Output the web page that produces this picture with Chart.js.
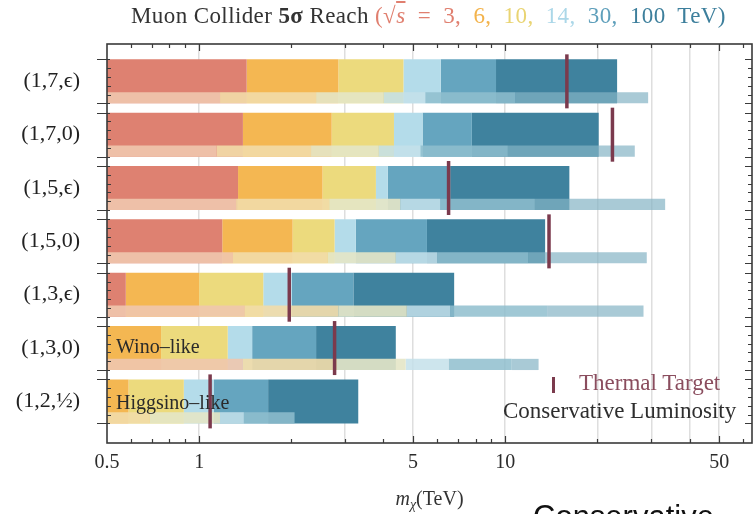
<!DOCTYPE html>
<html>
<head>
<meta charset="utf-8">
<script src="https://cdn.jsdelivr.net/npm/chart.js@4.4.0/dist/chart.umd.min.js"></script>
<style>
    html, body { margin: 0; padding: 0; background: #fff; overflow: hidden; }
    #wrap { position: relative; width: 754px; height: 514px; overflow: hidden; }
    #wrap canvas { position: absolute; left: 0; top: 0; }
    .txt { position: absolute; white-space: nowrap; line-height: 1;
           font-family: "Liberation Serif", "DejaVu Serif", serif; }
    #title { left: 131px; top: 4px; font-size: 23px; color: #333; letter-spacing: 0.4px; }
    #title .sq { word-spacing: 6px; }
    #xlabel { left: 107px; width: 645px; top: 488px; font-size: 20px; color: #333; text-align: center; }
    #xlabel sub { font-size: 14px; vertical-align: -4px; line-height: 0; }
    .note { font-size: 20px; color: #2a2a2a; left: 116px; }
    #thermalMark { position: absolute; left: 552px; top: 377px; width: 3px; height: 16px; background: #7b3a4d; }
    #thermalText { left: 579px; top: 371px; font-size: 23px; color: #8a4d5e; }
    #consText { left: 503px; top: 399px; font-size: 23px; color: #2e2e2e; }
    #slideText { position: absolute; left: 533px; top: 501px; font: 31px "Liberation Sans", Arial, sans-serif;
                 line-height: 1; color: #111; white-space: nowrap; }
</style>
</head>
<body>
<div id="wrap">
    <canvas id="reach" width="754" height="514"></canvas>
    <div class="txt" id="title"></div>
    <div class="txt" id="xlabel"><i>m</i><sub><i>χ</i></sub>(TeV)</div>
    <div class="txt note" style="top:336px;">Wino–like</div>
    <div class="txt note" style="top:392px;">Higgsino–like</div>
    <div id="thermalMark"></div>
    <div class="txt" id="thermalText">Thermal Target</div>
    <div class="txt" id="consText">Conservative Luminosity</div>
    <div id="slideText">Conservative</div>
</div>
<script>
const categories = ['(1,7,ϵ)', '(1,7,0)', '(1,5,ϵ)', '(1,5,0)', '(1,3,ϵ)', '(1,3,0)', '(1,2,½)'];
const energies = ['3', '6', '10', '14', '30', '100'];

/* 5 sigma reach in m_chi (TeV), nominal luminosity, one list per collider energy */
const reach3   = [1.43, 1.39, 1.34, 1.19, 0.576, 0.45, 0.45];
const reach6   = [2.85, 2.71, 2.53, 2.02, 1.00, 0.751, 0.588];
const reach10  = [4.65, 4.33, 3.78, 2.77, 1.62, 1.24, 0.891];
const reach14  = [6.16, 5.37, 4.13, 3.25, 2.01, 1.49, 1.117];
const reach30  = [9.33, 7.78, 6.61, 5.55, 3.19, 2.41, 1.68];
const reach100 = [23.2, 20.2, 16.2, 13.5, 6.81, 4.39, 3.31];

/* same, conservative luminosity */
const cons3   = [1.17, 1.14, 1.32, 1.29, 1.41, 1.39, 0.45];
const cons6   = [2.41, 2.32, 2.66, 2.63, 2.85, 2.82, 0.69];
const cons10  = [4.00, 3.85, 4.54, 4.39, 4.77, 4.73, 1.17];
const cons14  = [5.48, 5.28, 6.13, 5.99, 6.61, 6.53, 1.40];
const cons30  = [10.8, 10.2, 12.5, 11.9, 13.7, 10.5, 2.05];
const cons100 = [29.3, 26.5, 33.3, 29.0, 28.3, 12.85, 2.05];

/* thermal target mass (TeV) */
const thermal = [15.9, 22.4, 6.53, 13.9, 1.97, 2.77, 1.086];

const xGrid = [0.5, 1, 3, 5, 10, 20, 30, 40, 50];
const xTickLabels = [0.5, 1, 5, 10, 50];
const xMarks = [0.6, 0.7, 0.8, 0.9, 1, 2, 3, 4, 5, 6, 7, 8, 9, 10, 20, 30, 40, 50, 60];
const xMajor = [1, 5, 10, 50];

const mainColors = ['#de8171', '#f4b752', '#ecda7d', '#b4dcea', '#65a5bf', '#3f829e'];
const consColors = ['rgba(239,198,174,0.9)', 'rgba(242,220,169,0.9)', 'rgba(228,229,199,0.9)',
                    'rgba(196,224,234,0.85)', 'rgba(143,190,206,0.85)', 'rgba(133,179,196,0.7)'];
const titleColors = ['#e07f6f', '#f3b34c', '#e9d472', '#abd7e8', '#5e9fbb', '#3d7f9c'];

const reach = [reach3, reach6, reach10, reach14, reach30, reach100];
const cons = [cons3, cons6, cons10, cons14, cons30, cons100];

const serif = '"Liberation Serif", "DejaVu Serif", serif';
const xMin = 0.5, xMax = 64;
const yMin = -0.7, yMax = 6.78;
const bandFill = 0.825;           // thick bar, fraction of row spacing
const stripFill = 0.21;           // conservative strip at the bottom of each bar
const stripShift = bandFill / 2 - stripFill / 2;
const barFloor = 0.1;             // bars start left of the axis

/* title with the energies in their bar colours */
(function buildTitle() {
    const parts = energies.map((e, i) => {
        const head = i === 0 ? '(√<span style="text-decoration:overline"><i>s</i></span> = ' : '';
        const tail = i === energies.length - 1 ? ' TeV)' : ',';
        return '<span style="color:' + titleColors[i] + '">' + head + e + tail + '</span>';
    });
    document.getElementById('title').innerHTML =
        'Muon Collider <b>5σ</b> Reach <span class="sq">' + parts.join(' ') + '</span>';
})();

/* floating segments: each energy's bar starts where the previous one stops */
function segments(lists, k) {
    return categories.map((c, j) => ({
        y: j,
        x: [k === 0 ? barFloor : lists[k - 1][j], lists[k][j]]
    }));
}

const datasets = [];
energies.forEach((e, k) => {
    datasets.push({
        type: 'bar', label: e + ' TeV', data: segments(reach, k),
        backgroundColor: mainColors[k], borderWidth: 0,
        xAxisID: 'x', yAxisID: 'y', grouped: false,
        barPercentage: bandFill, categoryPercentage: 1, order: 2
    });
    datasets.push({
        type: 'bar', label: e + ' TeV conservative', data: segments(cons, k),
        backgroundColor: consColors[k], borderWidth: 0,
        xAxisID: 'x', yAxisID: 'yc', grouped: false,
        barPercentage: stripFill, categoryPercentage: 1, order: 1
    });
});
datasets.push({
    type: 'scatter', label: 'Thermal Target',
    data: thermal.map((v, j) => ({ x: v, y: j })),
    xAxisID: 'x', yAxisID: 'y', showLine: false,
    pointStyle: 'line', pointRotation: 90, pointRadius: 27, pointHoverRadius: 27,
    pointBorderWidth: 3.5, pointBorderColor: '#7b3a4d', pointBackgroundColor: '#7b3a4d',
    order: 0
});

const rowTicks = s => { s.ticks = categories.map((c, i) => ({ value: i })); };

/* Frame with inward tick marks on all four sides */
const frame = {
    id: 'frame',
    afterDatasetsDraw(chart) {
        const { ctx, chartArea: a } = chart;
        const x = chart.scales.x, y = chart.scales.y;
        const half = bandFill / 2;
        ctx.save();
        ctx.strokeStyle = '#3a3a3a';
        ctx.lineWidth = 1.2;
        ctx.beginPath();
        xMarks.forEach(v => {
            const px = Math.round(x.getPixelForValue(v)) + 0.5;
            const len = xMajor.includes(v) ? 7 : 4;
            ctx.moveTo(px, a.top); ctx.lineTo(px, a.top + len);
            ctx.moveTo(px, a.bottom); ctx.lineTo(px, a.bottom - len);
        });
        categories.forEach((c, i) => {
            for (let k = 0; k <= 5; k++) {
                const py = Math.round(y.getPixelForValue(i - half + k * bandFill / 5)) + 0.5;
                const edge = k === 0 || k === 5;
                ctx.moveTo(a.left - (edge ? 10 : 0), py); ctx.lineTo(a.left + (edge ? 3 : 4), py);
                ctx.moveTo(a.right, py); ctx.lineTo(a.right - (edge ? 7 : 4), py);
            }
        });
        ctx.stroke();
        ctx.lineWidth = 1.6;
        ctx.strokeRect(a.left, a.top, a.right - a.left, a.bottom - a.top);
        ctx.restore();
    }
};

new Chart(document.getElementById('reach'), {
    type: 'bar',
    data: { datasets },
    plugins: [frame],
    options: {
        responsive: false,
        animation: false,
        events: [],
        indexAxis: 'y',
        layout: { autoPadding: false, padding: { top: 44, right: 2, left: 0, bottom: 0 } },
        plugins: { legend: { display: false }, tooltip: { enabled: false } },
        scales: {
            x: {
                type: 'logarithmic', position: 'bottom', min: xMin, max: xMax,
                afterBuildTicks: s => { s.ticks = xGrid.map(v => ({ value: v })); },
                afterFit: s => {
                    s.height = 71;
                    s.paddingLeft = 0;
                    s.paddingRight = 0;
                },
                ticks: {
                    autoSkip: false, maxRotation: 0, padding: 8,
                    font: { family: serif, size: 20 }, color: '#2b2b2b',
                    callback: v => xTickLabels.includes(v) ? String(v) : ''
                },
                grid: {
                    drawTicks: false, lineWidth: 1.5,
                    color: c => (c.tick && c.tick.value > xMin) ? '#dedede' : 'rgba(0,0,0,0)'
                },
                border: { display: false }
            },
            y: {
                type: 'linear', position: 'left', reverse: true, offset: false,
                min: yMin, max: yMax,
                afterBuildTicks: rowTicks,
                afterFit: s => { s.width = 107; },
                ticks: {
                    autoSkip: false, padding: 27,
                    font: { family: serif, size: 22 }, color: '#222',
                    callback: v => categories[v]
                },
                grid: { display: false, drawTicks: false, offset: false },
                border: { display: false }
            },
            yc: {
                type: 'linear', position: 'left', display: false, reverse: true, offset: false,
                min: yMin - stripShift, max: yMax - stripShift,
                afterBuildTicks: rowTicks,
                grid: { display: false, offset: false }
            }
        }
    }
});
</script>
</body>
</html>
